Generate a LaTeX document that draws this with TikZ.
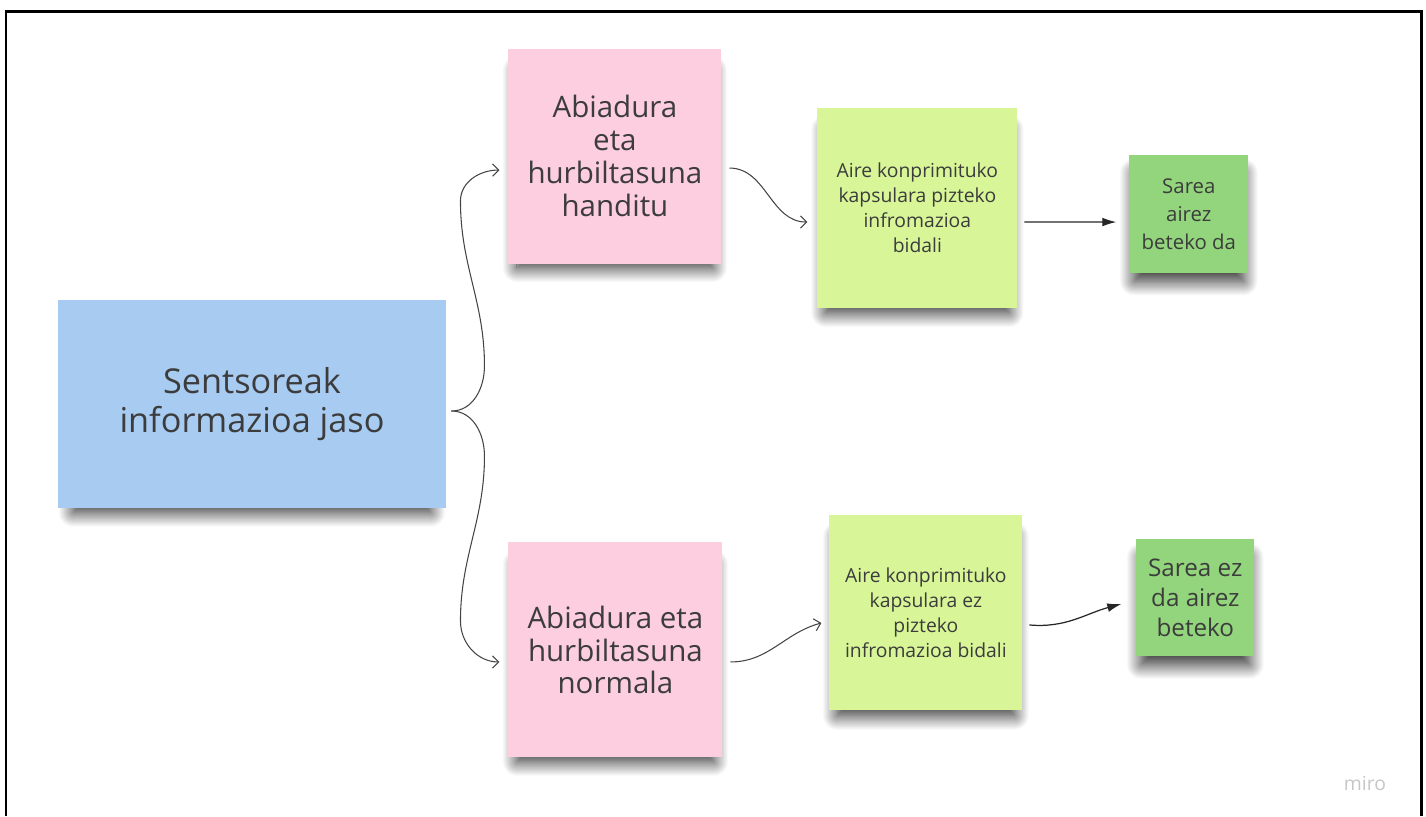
\documentclass[tikz,border=0pt]{standalone}
\usepackage{fontspec}
\setmainfont{Open Sans}
\usetikzlibrary{positioning,calc,arrows.meta,shadows.blur}

\definecolor{skyblue}{HTML}{A8CBF2}
\definecolor{candy}{HTML}{FDCDE0}
\definecolor{limegreen}{HTML}{D8F598}
\definecolor{leafgreen}{HTML}{93D57C}
\definecolor{txtgray}{HTML}{3C3C3C}
\definecolor{linegray}{HTML}{444444}

\begin{document}
\begin{tikzpicture}[x=0.02cm,y=-0.02cm,
	sticky/.style={inner sep=0pt,outer sep=0pt,align=center,text=txtgray,
		blur shadow={shadow xshift=0pt,shadow yshift=-8pt,shadow scale=0.92,shadow blur radius=9pt,shadow blur steps=24,shadow opacity=85}},
	thinarrow/.style={draw=linegray,line width=0.6pt,-{Straight Barb[length=3.5pt,width=7pt]}},
	fillarrow/.style={draw=black!85,line width=0.7pt,-{Latex[length=8pt,width=5pt]}}]
		\useasboundingbox (0,0) rectangle (1426,816);
		\draw[line width=1.7pt] (6,816) -- (6,11) -- (1421,11) -- (1421,816);
		
		\node[sticky,fill=skyblue,minimum width=7.78cm,minimum height=4.16cm,font=\fontsize{19.5}{22}\selectfont] (sensor) at (252,404) {Sentsoreak\\informazioa jaso};
		\node[sticky,fill=candy,minimum width=4.26cm,minimum height=4.3cm,font=\fontsize{16.8}{18.7}\selectfont,right=1.24cm of sensor,yshift=4.96cm] (fast) {Abiadura\\eta\\hurbiltasuna\\handitu};
		\node[sticky,fill=candy,minimum width=4.28cm,minimum height=4.3cm,font=\fontsize{16.8}{18.7}\selectfont,right=1.24cm of sensor,yshift=-4.92cm] (normal) {Abiadura eta\\hurbiltasuna\\normala};
		\node[sticky,fill=limegreen,minimum width=4cm,minimum height=4cm,font=\fontsize{11}{14.2}\selectfont,right=1.92cm of fast,yshift=-1.04cm] (sendon) {Aire konprimituko\\kapsulara pizteko\\infromazioa\\bidali};
		\node[sticky,fill=limegreen,minimum width=3.86cm,minimum height=3.9cm,font=\fontsize{11}{14.2}\selectfont,right=2.14cm of normal,yshift=0.74cm] (sendoff) {Aire konprimituko\\kapsulara ez\\pizteko\\infromazioa bidali};
		\node[sticky,fill=leafgreen,minimum width=2.38cm,minimum height=2.36cm,font=\fontsize{11.6}{15.9}\selectfont,right=2.24cm of sendon,yshift=-0.12cm] (filled) {Sarea\\airez\\beteko da};
		\node[sticky,fill=leafgreen,minimum width=2.36cm,minimum height=2.34cm,font=\fontsize{13.8}{17}\selectfont,right=2.28cm of sendoff,yshift=0.3cm] (empty) {Sarea ez\\da airez\\beteko};
		\node[text=gray!45,font=\fontsize{11}{13}\selectfont] (logo) at (1365,783) {miro};
		
		\coordinate (fork) at ($(sensor.east)+(5,7)$);
		\draw[thinarrow] (fork) to[out=0,in=-90] ++(33,-45) to[out=90,in=-90] ++(-24,-165) to[out=90,in=180] ($(fast.west)+(-9,14)$);
		\draw[thinarrow] (fork) to[out=0,in=90] ++(33,45) to[out=-90,in=90] ++(-24,165) to[out=-90,in=180] ($(normal.west)+(-9,12)$);
		\draw[thinarrow] ($(fast.east)+(8,12)$) to[out=0,in=180] ($(sendon.west)+(-10,14)$);
		\draw[thinarrow] ($(normal.east)+(8,12)$) to[out=0,in=195] ($(sendoff.west)+(-8,10)$);
		\draw[fillarrow] ($(sendon.east)+(7,14)$) -- ($(filled.west)+(-13,8)$);
		\draw[fillarrow] ($(sendoff.east)+(7,12)$) to[out=-5,in=195] ($(empty.west)+(-15,6)$);
	\end{tikzpicture}
\end{document}
